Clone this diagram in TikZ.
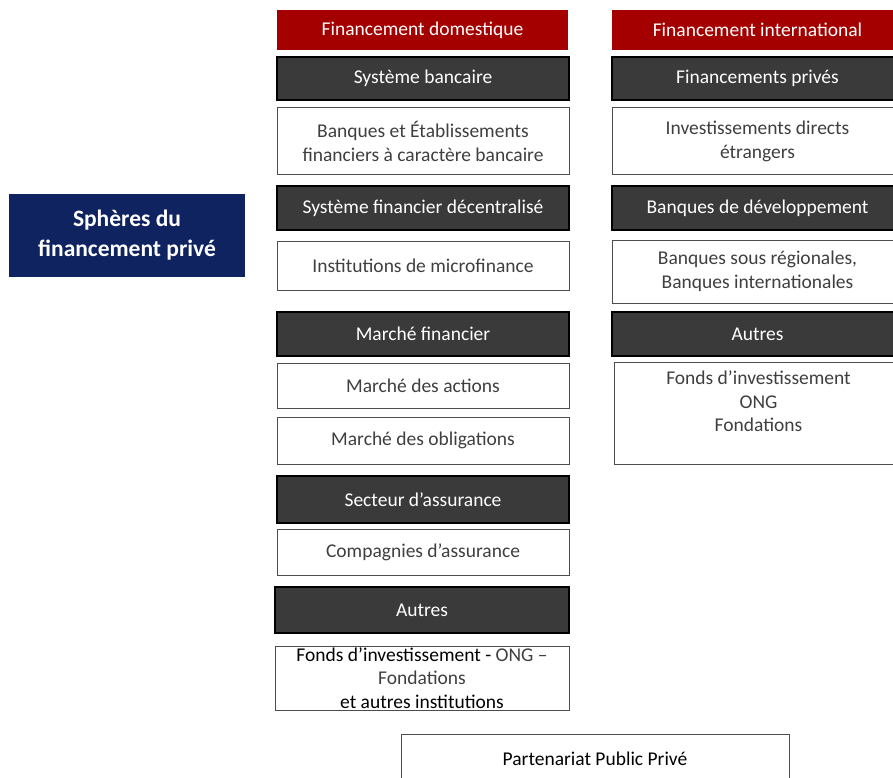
\documentclass[tikz,border=0pt]{standalone}
\usepackage{fontspec}
\setmainfont{Carlito}
\definecolor{rouge}{HTML}{A50000}
\definecolor{sombre}{HTML}{3A3A3A}
\definecolor{marine}{HTML}{0F2360}
\definecolor{texte}{HTML}{3F3F3F}
\tikzset{
  titre/.style={fill=rouge,text=white,inner sep=0pt,font=\fontsize{19.5}{24}\selectfont},
  rubrique/.style={fill=sombre,draw=black,line width=1.4pt,text=white,inner sep=0pt,font=\fontsize{19.5}{24}\selectfont},
  detail/.style={fill=white,draw=black!70,line width=1pt,text=texte,inner sep=0pt,align=center,font=\fontsize{19.5}{24}\selectfont},
}
\begin{document}
\begin{tikzpicture}[x=1pt,y=-1pt]
  \useasboundingbox (0,0) rectangle (893,778);
  % sphere
  \node[fill=marine,text=white,minimum width=236pt,minimum height=83pt,align=center,
    font=\bfseries\fontsize{23.5}{30}\selectfont] (sphere) at (127,235.5) {Sphères du\\financement privé};
  % domestique
  \node[titre,minimum width=291pt,minimum height=40pt] (dom) at (422.5,30) {Financement domestique};
  \node[rubrique,minimum width=292pt,minimum height=43pt] (banc) at (423,78.5) {Système bancaire};
  \node[detail,minimum width=292pt,minimum height=67pt] (etab) at (423,141.5) {Banques et Établissements\\financiers à caractère bancaire};
  \node[rubrique,minimum width=292pt,minimum height=44pt] (sfd) at (423,208) {Système financier décentralisé};
  \node[detail,minimum width=292pt,minimum height=49pt] (imf) at (423,265.5) {Institutions de microfinance};
  \node[rubrique,minimum width=292pt,minimum height=44pt] (mfin) at (423,334) {Marché financier};
  \node[detail,minimum width=292pt,minimum height=45pt] (act) at (423,385.5) {Marché des actions};
  \node[detail,minimum width=292pt,minimum height=47pt] (obl) at (423,440.5) {Marché des obligations};
  \node[rubrique,minimum width=292pt,minimum height=47pt] (ass) at (423,499.5) {Secteur d’assurance};
  \node[detail,minimum width=292pt,minimum height=46pt] (cie) at (423,552) {Compagnies d’assurance};
  \node[rubrique,minimum width=294pt,minimum height=46pt] (autd) at (422,610) {Autres};
  \node[detail,text=black,minimum width=294pt,minimum height=64pt,font=\fontsize{19.5}{23.5}\selectfont] (fonds) at (422,678)
    {Fonds d’investissement - \textcolor{texte}{ONG –}\\\textcolor{texte}{Fondations}\\et autres institutions};
  % international
  \node[titre,minimum width=291pt,minimum height=40pt] (int) at (757.5,30) {Financement international};
  \node[rubrique,minimum width=291pt,minimum height=43pt] (priv) at (757.5,78.5) {Financements privés};
  \node[detail,minimum width=291pt,minimum height=67pt] (ide) at (757.5,141.5) {Investissements directs\\étrangers};
  \node[rubrique,minimum width=291pt,minimum height=44pt] (bdev) at (757.5,208) {Banques de développement};
  \node[detail,minimum width=291pt,minimum height=63pt] (bsr) at (757.5,271.5) {Banques sous régionales,\\Banques internationales};
  \node[rubrique,minimum width=291pt,minimum height=44pt] (auti) at (757.5,334) {Autres};
  \node[detail,minimum width=289pt,minimum height=102pt] (fondi) at (758.5,413) {};
  \node[text=texte,align=center,font=\fontsize{19.5}{23.5}\selectfont] (fonditxt) at (758.5,401.5)
    {Fonds d’investissement\\ONG\\Fondations};
  % bas
  \node[detail,text=black,minimum width=388pt,minimum height=60pt] (ppp) at (595,764) {};
  \node[text=black,font=\fontsize{19.5}{24}\selectfont] (ppplab) at (595,759) {Partenariat Public Privé};
\end{tikzpicture}
\end{document}
